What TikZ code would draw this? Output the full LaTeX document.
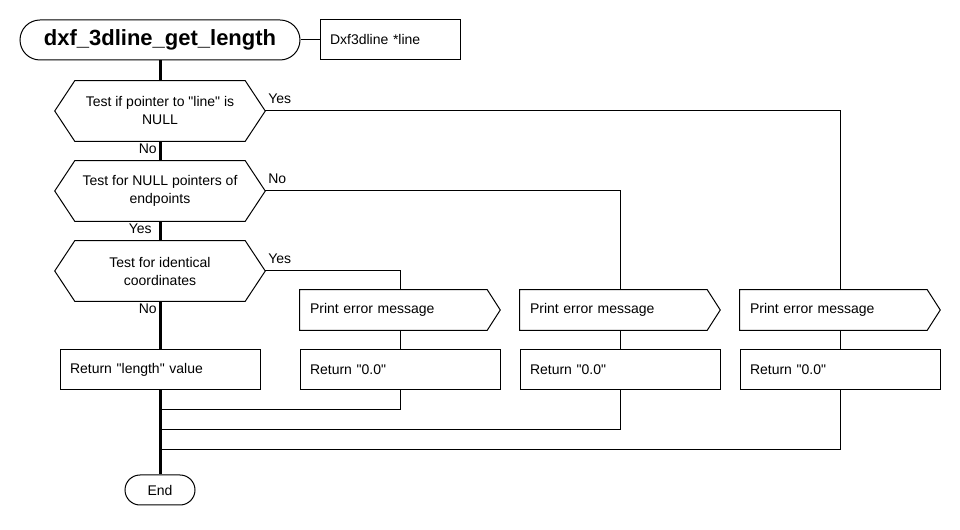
\documentclass[tikz,border=0pt]{standalone}
\usepackage{fontspec}
\setmainfont{Liberation Sans}[Ligatures=TeXOff]
\usetikzlibrary{shapes.misc,calc}
\newdimen\pxu \pxu=0.75pt
\begin{document}
\begin{tikzpicture}[x=0.75pt,y=-0.75pt,
  font=\fontsize{10.5}{13.5}\selectfont,
  thinl/.style={line width=1\pxu},
  spine/.style={line width=3\pxu},
  term/.style={draw, thinl, rounded rectangle, inner sep=0pt},
  dec/.style={minimum width=210\pxu, minimum height=60\pxu, inner sep=0pt, align=center},
  box/.style={draw, thinl, minimum height=40\pxu, text width=180\pxu, inner xsep=10\pxu, inner ysep=0pt, align=left},
  pem/.style={minimum height=40\pxu, text width=180\pxu, inner xsep=10\pxu, inner ysep=0pt, align=left},
  lbl/.style={inner sep=0pt}
]
\useasboundingbox[fill=white] (0,0) rectangle (960,530);

% terminals and parameter
\node[term, minimum width=280\pxu, minimum height=40\pxu, font=\fontsize{16.5}{18}\selectfont\bfseries] (title) at (160,40) {dxf\_3dline\_get\_length};
\node[box, text width=120\pxu] (param) at (390,40) {Dxf3dline *line};
\node[term, minimum width=70\pxu, minimum height=30\pxu] (end) at (160,490) {End};

% decisions
\node[dec] (d1) at (160,111) {Test if pointer to "line" is\\NULL};
\node[dec] (d2) at (160,191) {Test for NULL pointers of\\endpoints};
\node[dec] (d3) at (160,271) {Test for identical\\coordinates};
\foreach \d in {d1,d2,d3}{
  \draw[thinl] (\d.west) -- ($(\d.north west)+(20,0)$) -- ($(\d.north east)+(-20,0)$) -- (\d.east)
    -- ($(\d.south east)+(-20,0)$) -- ($(\d.south west)+(20,0)$) -- cycle;
}

% process boxes
\node[box] (rl) at (160,370) {Return "length" value};
\node[pem] (pe1) at (400,310) {Print error message};
\node[pem] (pe2) at (620,310) {Print error message};
\node[pem] (pe3) at (840,310) {Print error message};
\foreach \p in {pe1,pe2,pe3}{
  \draw[thinl] (\p.north west) -- ($(\p.north east)+(-13,0)$) -- (\p.east)
    -- ($(\p.south east)+(-13,0)$) -- (\p.south west) -- cycle;
}
\node[box] (r1) at (400,370) {Return "0.0"};
\node[box] (r2) at (620,370) {Return "0.0"};
\node[box] (r3) at (840,370) {Return "0.0"};

% labels
\node[lbl, anchor=west] (ly1) at (268,99) {Yes};
\node[lbl, anchor=east] (ln1) at (157,149) {No};
\node[lbl, anchor=west] (ln2) at (268,179) {No};
\node[lbl, anchor=east] (ly2) at (152,229) {Yes};
\node[lbl, anchor=west] (ly3) at (268,259) {Yes};
\node[lbl, anchor=east] (ln3) at (157,309) {No};

% junctions on spine
\coordinate (j1) at (160,410);
\coordinate (j2) at (160,430);
\coordinate (j3) at (160,450);

% spine
\draw[spine] (title.south) -- (d1.north);
\draw[spine] (d1.south) -- (d2.north);
\draw[spine] (d2.south) -- (d3.north);
\draw[spine] (d3.south) -- (rl.north);
\draw[spine] (rl.south) -- (end.north);

% thin connectors
\draw[thinl] (title.east) -- (param.west);
\draw[thinl] (d1.east) -| (pe3.north);
\draw[thinl] (d2.east) -| (pe2.north);
\draw[thinl] (d3.east) -| (pe1.north);
\draw[thinl] (pe1.south) -- (r1.north);
\draw[thinl] (pe2.south) -- (r2.north);
\draw[thinl] (pe3.south) -- (r3.north);
\draw[thinl] (r1.south) |- (j1);
\draw[thinl] (r2.south) |- (j2);
\draw[thinl] (r3.south) |- (j3);
\end{tikzpicture}
\end{document}
